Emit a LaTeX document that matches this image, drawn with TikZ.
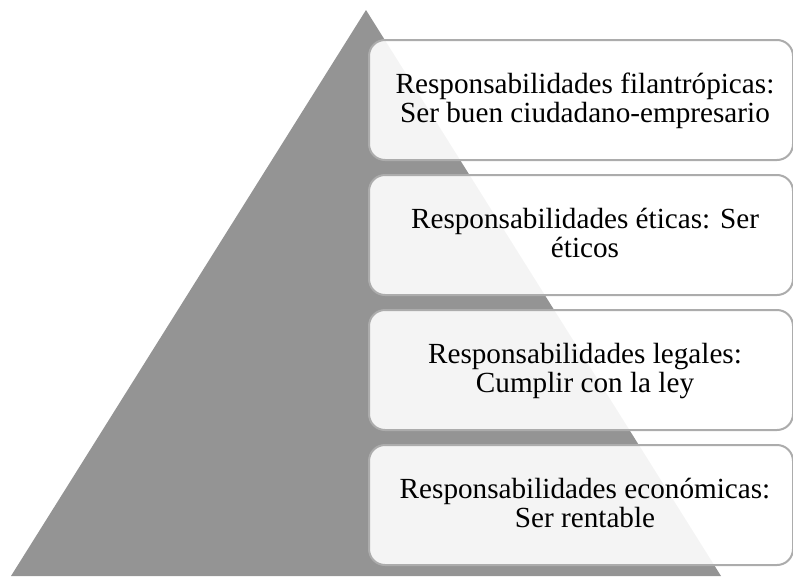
\documentclass[tikz,border=0pt]{standalone}
\usepackage{fontspec}
\setmainfont{Liberation Serif}
\definecolor{tri}{HTML}{949494}
\definecolor{edge}{HTML}{ACACAC}
\newcommand{\lnTop}{\rule{0pt}{24pt}}
\newcommand{\lnBot}{\rule[-8pt]{0pt}{8pt}}
\begin{document}
\begin{tikzpicture}[x=1pt,y=-1pt,
  level/.style={draw=edge, line width=2pt, fill=white, fill opacity=0.9, text opacity=1,
    rounded corners=16pt, minimum width=424pt, minimum height=120pt, inner sep=0pt,
    anchor=north west},
  lbl/.style={align=center, inner sep=0pt, font=\fontsize{29.2}{28.5}\selectfont, text=black}]
\useasboundingbox (0,0) rectangle (793,576);
\fill[tri] (366,10) -- (721,576) -- (11,576) -- cycle;
\node[level] (b1) at (368,39) {};
\node[level] (b2) at (368,174) {};
\node[level] (b3) at (368,309) {};
\node[level] (b4) at (368,444) {};
\node[lbl] (t1) at ([xshift=4pt]b1.center) {\lnTop Responsabilidades filantrópicas:\\Ser buen ciudadano-empresario\lnBot};
\node[lbl] (t2) at ([xshift=4pt]b2.center) {\lnTop Responsabilidades éticas: Ser\\éticos\lnBot};
\node[lbl] (t3) at ([xshift=4pt]b3.center) {\lnTop Responsabilidades legales:\\Cumplir con la ley\lnBot};
\node[lbl] (t4) at ([xshift=4pt]b4.center) {\lnTop Responsabilidades económicas:\\Ser rentable\lnBot};
\end{tikzpicture}
\end{document}
